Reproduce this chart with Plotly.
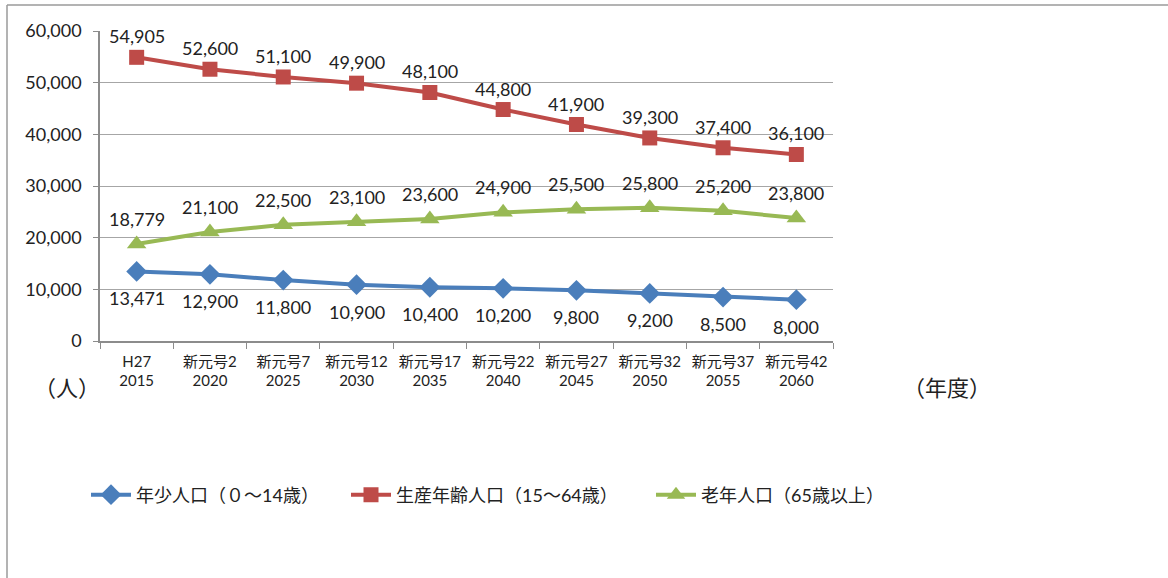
import plotly.graph_objects as go

categories = ["H27<br>2015", "新元号2<br>2020", "新元号7<br>2025", "新元号12<br>2030", "新元号17<br>2035",
              "新元号22<br>2040", "新元号27<br>2045", "新元号32<br>2050", "新元号37<br>2055", "新元号42<br>2060"]
young = [13471, 12900, 11800, 10900, 10400, 10200, 9800, 9200, 8500, 8000]
working = [54905, 52600, 51100, 49900, 48100, 44800, 41900, 39300, 37400, 36100]
elderly = [18779, 21100, 22500, 23100, 23600, 24900, 25500, 25800, 25200, 23800]
names = ["年少人口（０～14歳）", "生産年齢人口（15～64歳）", "老年人口（65歳以上）"]

FONT = "Lato, 'Noto Sans CJK JP', sans-serif"
W, H = 1168, 578
L, R, T, B = 100, 1168 - 833, 31, 578 - 341
pw, ph = W - L - R, H - T - B

colors = ["#4A7EBB", "#BE4B48", "#98B954"]
symbols = ["diamond", "square", "triangle-up"]
msizes = [16, 15, 17]
series = [young, working, elderly]
shifts = [-27, 21, 25]
legend_ids = ["legend", "legend2", "legend3"]
legend_px = [86, 346, 651]

def px_x(p):
    return (p - L) / pw

def px_y(p):
    return (H - B - p) / ph

fig = go.Figure()
annotations = []
for vals, name, col, sym, ms, sh, lg in zip(series, names, colors, symbols, msizes, shifts, legend_ids):
    fig.add_trace(go.Scatter(
        x=categories, y=vals, name=name, mode="lines+markers", legend=lg,
        line=dict(color=col, width=4),
        marker=dict(symbol=sym, size=ms, color=col), cliponaxis=False))
    for c, v in zip(categories, vals):
        annotations.append(dict(x=c, y=v, xref="x", yref="y", text=f"{v:,}", showarrow=False,
                                yshift=sh, xanchor="center", yanchor="middle",
                                font=dict(family=FONT, size=18, color="#222")))

annotations += [
    dict(text="（人）", xref="paper", yref="paper", x=px_x(67), y=px_y(386), xanchor="center",
         yanchor="middle", showarrow=False,
         font=dict(family="'Noto Sans CJK JP'", size=22, color="#222")),
    dict(text="（年度）", xref="paper", yref="paper", x=px_x(947), y=px_y(386), xanchor="center",
         yanchor="middle", showarrow=False,
         font=dict(family="'Noto Sans CJK JP'", size=22, color="#222")),
]

legends = {}
for lg, lx in zip(legend_ids, legend_px):
    legends[lg] = dict(orientation="h", x=px_x(lx), y=px_y(495), xanchor="left", yanchor="middle",
                       font=dict(family=FONT, size=18, color="#222"), itemwidth=40,
                       bgcolor="rgba(0,0,0,0)")

fig.update_layout(
    width=W, height=H,
    margin=dict(l=L, r=R, t=T, b=B, autoexpand=False),
    paper_bgcolor="white", plot_bgcolor="white",
    font=dict(family=FONT, color="#222"),
    showlegend=True,
    xaxis=dict(type="category", tickson="boundaries", ticks="outside", ticklen=6,
               tickcolor="#8C8C8C", showline=True, linecolor="#8C8C8C", linewidth=1.5,
               showgrid=False, tickfont=dict(family=FONT, size=15, color="#222"),
               ticklabelstandoff=6, range=[-0.5, 9.5]),
    yaxis=dict(range=[0, 60000], dtick=10000, tickformat=",", ticks="outside", ticklen=5,
               tickcolor="#8C8C8C", showline=True, linecolor="#8C8C8C", linewidth=1.5,
               showgrid=True, gridcolor="#A6A6A6", gridwidth=1, zeroline=False,
               tickfont=dict(family=FONT, size=18, color="#222"), ticklabelstandoff=8),
    shapes=[
        dict(type="line", xref="paper", yref="paper", x0=px_x(7), x1=px_x(1200),
             y0=px_y(5), y1=px_y(5), line=dict(color="#9A9A9A", width=1.5)),
        dict(type="line", xref="paper", yref="paper", x0=px_x(7), x1=px_x(7),
             y0=px_y(5), y1=px_y(600), line=dict(color="#9A9A9A", width=1.5)),
    ],
    annotations=annotations,
    **legends,
)

fig.write_html("out.html")
